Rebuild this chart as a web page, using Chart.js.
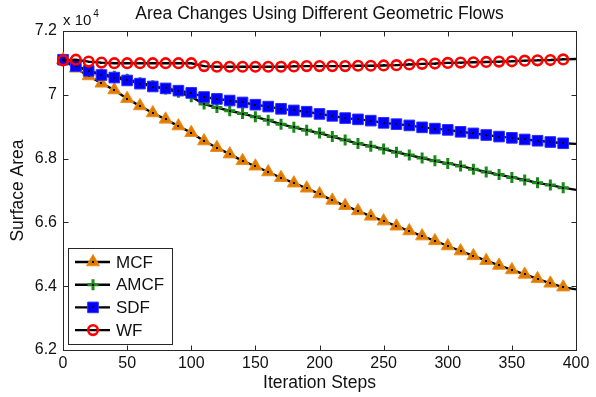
<!DOCTYPE html>
<html>
<head>
<meta charset="utf-8">
<script src="https://cdn.jsdelivr.net/npm/chart.js@4/dist/chart.umd.min.js"></script>
<style>
  html, body { margin: 0; padding: 0; background: #fff; }
  #areaChart { display: block; }
</style>
</head>
<body>
<canvas id="areaChart" width="596" height="397"></canvas>
<script>
// Iteration steps (markers every 10 steps, last point has no marker)
const steps = [0, 10, 20, 30, 40, 50, 60, 70, 80, 90, 100, 110, 120, 130, 140, 150, 160, 170, 180, 190,
    200, 210, 220, 230, 240, 250, 260, 270, 280, 290, 300, 310, 320, 330, 340, 350, 360, 370, 380, 390, 400];

// Surface area, in units of 10^4
const mcfArea = [7.110, 7.083, 7.059, 7.036, 7.015, 6.988, 6.965, 6.943, 6.923, 6.902,
    6.881, 6.855, 6.834, 6.814, 6.793, 6.776, 6.758, 6.740, 6.723, 6.707,
    6.689, 6.669, 6.652, 6.636, 6.619, 6.604, 6.588, 6.573, 6.557, 6.542,
    6.526, 6.510, 6.495, 6.480, 6.465, 6.451, 6.437, 6.423, 6.409, 6.397, 6.390];
const amcfArea = [7.110, 7.090, 7.076, 7.064, 7.058, 7.049, 7.038, 7.028, 7.018, 7.008,
    6.994, 6.971, 6.960, 6.950, 6.941, 6.931, 6.920, 6.908, 6.898, 6.889,
    6.880, 6.869, 6.858, 6.847, 6.839, 6.830, 6.820, 6.811, 6.802, 6.793,
    6.785, 6.777, 6.767, 6.758, 6.750, 6.741, 6.733, 6.724, 6.717, 6.709, 6.702];
const sdfArea = [7.110, 7.090, 7.075, 7.062, 7.054, 7.045, 7.035, 7.026, 7.020, 7.013,
    7.006, 6.993, 6.987, 6.982, 6.976, 6.969, 6.963, 6.956, 6.951, 6.947,
    6.940, 6.934, 6.927, 6.923, 6.919, 6.912, 6.908, 6.904, 6.898, 6.894,
    6.890, 6.884, 6.879, 6.874, 6.869, 6.865, 6.860, 6.856, 6.852, 6.848, 6.846];
const wfArea = [7.108, 7.110, 7.104, 7.101, 7.099, 7.099, 7.099, 7.099, 7.099, 7.099,
    7.099, 7.090, 7.088, 7.088, 7.088, 7.088, 7.088, 7.088, 7.089, 7.090,
    7.090, 7.090, 7.090, 7.091, 7.091, 7.092, 7.093, 7.095, 7.097, 7.098,
    7.100, 7.101, 7.102, 7.103, 7.104, 7.105, 7.107, 7.108, 7.109, 7.111, 7.112];

const seriesLabels = ['MCF', 'AMCF', 'SDF', 'WF'];
const xTicksStep = 50;
const yTicksStep = 0.2;
const chartTitle = 'Area Changes Using Different Geometric Flows';

const FONT = "'Liberation Sans', Arial, Helvetica, sans-serif";
const TEXT = '#111';

const markerStyles = [
    { pointStyle: 'triangle', radius: 7.5, fill: '#E07B00', stroke: '#E8901F', width: 1 },
    { pointStyle: 'cross', radius: 5.5, fill: '#1A8A1A', stroke: '#1A8A1A', width: 3 },
    { pointStyle: 'rect', radius: 7.5, fill: '#0000FF', stroke: '#2B2BFF', width: 1 },
    { pointStyle: 'circle', radius: 4.8, fill: 'rgba(0,0,0,0)', stroke: '#FF0000', width: 2.6 }
];

function toPoints(values) {
    return values.map((v, i) => ({ x: steps[i], y: v }));
}

function makeDataset(label, values, idx) {
    const m = markerStyles[idx];
    return {
        label: label,
        data: toPoints(values),
        borderColor: '#000',
        borderWidth: 2.4,
        pointStyle: m.pointStyle,
        pointRadius: ctx => (ctx.dataIndex === steps.length - 1 ? 0 : m.radius),
        pointHoverRadius: ctx => (ctx.dataIndex === steps.length - 1 ? 0 : m.radius),
        pointBackgroundColor: m.fill,
        pointBorderColor: m.stroke,
        pointBorderWidth: m.width,
        tension: 0,
        clip: false,
        order: 4 - idx
    };
}

// Draw a marker shape (legend) with the library helper when it is there
function drawMarker(ctx, m, x, y) {
    ctx.save();
    ctx.fillStyle = m.fill;
    ctx.strokeStyle = m.stroke;
    ctx.lineWidth = m.width;
    if (Chart.helpers && Chart.helpers.drawPoint) {
        Chart.helpers.drawPoint(ctx, { pointStyle: m.pointStyle, radius: m.radius, borderWidth: m.width, rotation: 0 }, x, y);
    }
    ctx.restore();
}

// MATLAB style box with inward ticks on all four sides
const axesBox = {
    id: 'axesBox',
    beforeDatasetsDraw(chart) {
        const { ctx, chartArea: a, scales } = chart;
        const L = Math.round(a.left) + 0.5, R = Math.round(a.right) + 0.5;
        const T = Math.round(a.top) + 0.5, B = Math.round(a.bottom) + 0.5;
        const tick = 5;
        ctx.save();
        ctx.strokeStyle = '#262626';
        ctx.lineWidth = 1;
        ctx.strokeRect(L, T, R - L, B - T);
        ctx.beginPath();
        scales.x.ticks.forEach(t => {
            const px = Math.round(scales.x.getPixelForValue(t.value)) + 0.5;
            ctx.moveTo(px, B); ctx.lineTo(px, B - tick);
            ctx.moveTo(px, T); ctx.lineTo(px, T + tick);
        });
        scales.y.ticks.forEach(t => {
            const py = Math.round(scales.y.getPixelForValue(t.value)) + 0.5;
            ctx.moveTo(L, py); ctx.lineTo(L + tick, py);
            ctx.moveTo(R, py); ctx.lineTo(R - tick, py);
        });
        ctx.stroke();
        ctx.restore();
    },
    afterDraw(chart) {
        const { ctx, chartArea: a } = chart;
        ctx.save();
        ctx.fillStyle = TEXT;
        // title centred over the axes
        ctx.font = '17.5px ' + FONT;
        ctx.textAlign = 'center';
        ctx.textBaseline = 'middle';
        ctx.fillText(chartTitle, (a.left + a.right) / 2, 14);
        // exponent label above the y axis
        ctx.textBaseline = 'alphabetic';
        ctx.textAlign = 'left';
        ctx.font = '15px ' + FONT;
        ctx.fillText('x 10', a.left, 25);
        const w = ctx.measureText('x 10').width;
        ctx.font = '10px ' + FONT;
        ctx.fillText('4', a.left + w + 2, 17);
        ctx.restore();
    }
};

// small black dot in the middle of every marker
const centerDots = {
    id: 'centerDots',
    afterDatasetDraw(chart, args) {
        const { ctx } = chart;
        ctx.save();
        ctx.fillStyle = '#000';
        args.meta.data.forEach((pt, i) => {
            if (i === steps.length - 1) return;
            ctx.fillRect(Math.round(pt.x) - 1, Math.round(pt.y) - 1, 2, 2);
        });
        ctx.restore();
    }
};

// legend box in the lower left corner of the axes
const boxLegend = {
    id: 'boxLegend',
    afterDatasetsDraw(chart) {
        const { ctx, chartArea: a } = chart;
        const x0 = a.left + 5, y0 = a.bottom - 102, w = 104, h = 96;
        ctx.save();
        ctx.fillStyle = '#fff';
        ctx.fillRect(x0, y0, w, h);
        ctx.strokeStyle = '#262626';
        ctx.lineWidth = 1;
        ctx.strokeRect(x0 + 0.5, y0 + 0.5, w, h);
        chart.data.datasets.forEach((ds, i) => {
            const y = y0 + 14 + i * 22.7;
            ctx.strokeStyle = '#000';
            ctx.lineWidth = 2.4;
            ctx.beginPath();
            ctx.moveTo(x0 + 7, y);
            ctx.lineTo(x0 + 42, y);
            ctx.stroke();
            drawMarker(ctx, markerStyles[i], x0 + 25, y);
            ctx.fillStyle = '#000';
            ctx.fillRect(x0 + 24, Math.round(y) - 1, 2, 2);
            ctx.fillStyle = TEXT;
            ctx.font = '17px ' + FONT;
            ctx.textAlign = 'left';
            ctx.textBaseline = 'middle';
            ctx.fillText(ds.label, x0 + 48, y + 1);
        });
        ctx.restore();
    }
};

const ctx = document.getElementById('areaChart').getContext('2d');

const areaChart = new Chart(ctx, {
    type: 'line',
    data: {
        datasets: [
            makeDataset(seriesLabels[0], mcfArea, 0),
            makeDataset(seriesLabels[1], amcfArea, 1),
            makeDataset(seriesLabels[2], sdfArea, 2),
            makeDataset(seriesLabels[3], wfArea, 3)
        ]
    },
    options: {
        responsive: false,
        animation: false,
        events: [],
        layout: {
            padding: { left: 0, right: 20, top: 31, bottom: 0 }
        },
        plugins: {
            legend: { display: false },
            tooltip: { enabled: false },
            title: { display: false }
        },
        scales: {
            x: {
                type: 'linear',
                min: 0,
                max: 400,
                grid: { display: false, drawTicks: false },
                border: { display: false },
                ticks: {
                    stepSize: xTicksStep,
                    color: TEXT,
                    padding: 4,
                    maxRotation: 0,
                    font: { family: FONT, size: 16 }
                },
                title: {
                    display: true,
                    text: 'Iteration Steps',
                    color: TEXT,
                    font: { family: FONT, size: 17.5 },
                    padding: { top: 0, bottom: 3 }
                },
                afterFit: scale => { scale.height = 47; }
            },
            y: {
                min: 6.2,
                max: 7.2,
                grid: { display: false, drawTicks: false },
                border: { display: false },
                ticks: {
                    stepSize: yTicksStep,
                    color: TEXT,
                    padding: 6,
                    font: { family: FONT, size: 16 },
                    callback: value => String(+value.toFixed(1))
                },
                title: {
                    display: true,
                    text: 'Surface Area',
                    color: TEXT,
                    font: { family: FONT, size: 17.5 },
                    padding: { top: 8, bottom: 0 }
                },
                afterFit: scale => { scale.width = 63; }
            }
        }
    },
    plugins: [axesBox, centerDots, boxLegend]
});
</script>
</body>
</html>
